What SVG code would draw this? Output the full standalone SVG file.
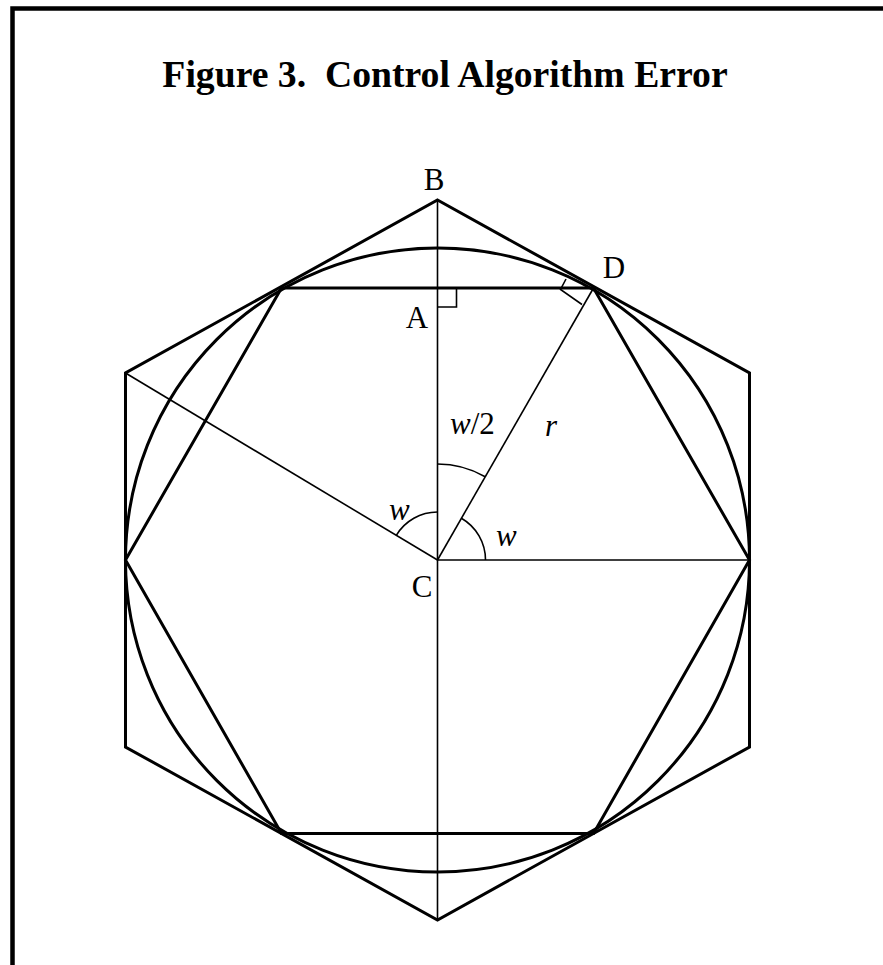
<svg xmlns="http://www.w3.org/2000/svg" width="883" height="965" viewBox="0 0 883 965">
<style>
.thick{fill:none;stroke:#000;stroke-width:3;stroke-linejoin:miter}
.thin{fill:none;stroke:#000;stroke-width:1.6}
.lbl{font-family:"Liberation Serif","Times New Roman",serif;font-size:31px;fill:#000}
.it{font-style:italic}
.title{font-family:"Liberation Serif","Times New Roman",serif;font-size:37.7px;font-weight:bold;fill:#000}
</style>
<rect width="883" height="965" fill="#fff"/>
<g id="frame">
<path d="M12.5 965 V8.5 H883" fill="none" stroke="#000" stroke-width="4.5"/>
</g>
<text id="title" class="title" x="445" y="87" text-anchor="middle" xml:space="preserve">Figure 3.  Control Algorithm Error</text>
<g id="outer-hexagon">
<polygon class="thick" points="437.5,200 749.5,373 749.5,747 437.5,920 125.5,747 125.5,373"/>
</g>
<g id="circle">
<circle class="thick" cx="437.5" cy="560" r="312"/>
</g>
<g id="inner-hexagon">
<polygon class="thick" points="749.5,560 593.5,288 281.5,288 125.5,560 281.5,833.5 593.5,833.5"/>
</g>
<g id="connectors">
<line class="thin" x1="437.5" y1="200" x2="437.5" y2="920"/>
<line class="thin" x1="437.5" y1="560" x2="593.5" y2="288"/>
<line class="thin" x1="437.5" y1="560" x2="749.5" y2="560"/>
<line class="thin" x1="437.5" y1="560" x2="125.5" y2="373"/>
<path class="thin" d="M437.5 464 A96 96 0 0 1 485.2 476.7"/>
<path class="thin" d="M485.5 560 A48 48 0 0 0 461.4 518.3"/>
<path class="thin" d="M437.5 512 A48 48 0 0 0 396.3 535.3"/>
<polyline class="thin" points="456.5,288 456.5,307 437.5,307"/>
<polyline class="thin" points="582,304.5 560.5,289.5 566,279"/>
</g>
<g id="labels">
<text class="lbl" x="434" y="190" text-anchor="middle">B</text>
<text class="lbl" x="417" y="328" text-anchor="middle">A</text>
<text class="lbl" x="614" y="278" text-anchor="middle">D</text>
<text class="lbl" x="422" y="597" text-anchor="middle">C</text>
<text class="lbl" x="450" y="434"><tspan class="it">w</tspan>/2</text>
<text class="lbl it" x="545" y="436">r</text>
<text class="lbl it" x="389" y="520">w</text>
<text class="lbl it" x="496" y="546">w</text>
</g>
</svg>
